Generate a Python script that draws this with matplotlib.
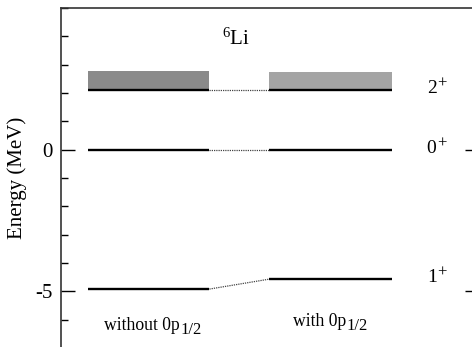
import matplotlib
matplotlib.use("Agg")
import matplotlib.pyplot as plt
from matplotlib.ticker import MultipleLocator

plt.rcParams['font.family'] = ['Liberation Serif', 'DejaVu Serif']
plt.rcParams['mathtext.fontset'] = 'custom'
plt.rcParams['mathtext.rm'] = 'Liberation Serif'
plt.rcParams['mathtext.it'] = 'Liberation Serif:italic'
plt.rcParams['axes.unicode_minus'] = False

# Data
states = ['2', '0', '1']
parity = ['+', '+', '+']
energy_without = [2.12, 0.0, -4.92]
energy_with = [2.12, 0.0, -4.57]
width_without = [0.67, 0.0, 0.0]
width_with = [0.62, 0.0, 0.0]
column_main = ['without 0p', 'with 0p']
column_sub = ['1/2', '1/2']
nucleus = '$^{6}$Li'
yticks_major = [0, -5]

fig = plt.figure(figsize=(4.72, 3.47), dpi=100)
ax = fig.add_axes([61/472, -1/347, 418/472, 340/347])
ax.set_xlim(0, 1)
ax.set_ylim(-7, 5)

x_left = (0.064, 0.355)
x_right = (0.498, 0.793)

for e0, e1, w0, w1 in zip(energy_without, energy_with, width_without, width_with):
    if w0 > 0:
        ax.fill_between(x_left, [e0, e0], [e0 + w0, e0 + w0], color='#8a8a8a', lw=0)
    if w1 > 0:
        ax.fill_between(x_right, [e1, e1], [e1 + w1, e1 + w1], color='#a4a4a4', lw=0)
    ax.plot(x_left, [e0, e0], color='black', lw=1.7, solid_capstyle='butt')
    ax.plot(x_right, [e1, e1], color='black', lw=1.7, solid_capstyle='butt')
    ax.plot([x_left[1], x_right[0]], [e0, e1], color='#444444', lw=0.9, ls=(0, (1, 0.8)))

# state labels with superscript parity
for e, s, p in zip(energy_with, states, parity):
    t = ax.text(0.875, e + 0.05, s, fontsize=14, ha='left', va='center')
    ax.annotate(p, xy=(1, 1), xycoords=t, xytext=(0.2, 3.0), textcoords='offset points',
                fontsize=12, ha='left', va='top')

ax.text(0.42, 3.9, nucleus, fontsize=15, ha='center', va='center')

# column labels with large subscripts
for x0, y0, m, sub in zip([0.103, 0.555], [-6.35, -6.21], column_main, column_sub):
    t = ax.text(x0, y0, m, fontsize=12.7, ha='left', va='baseline')
    ax.annotate(sub, xy=(1, 0), xycoords=t, xytext=(0.3, -3.0), textcoords='offset points',
                fontsize=12, ha='left', va='bottom')

ax.set_ylabel('Energy (MeV)', fontsize=15, labelpad=6)
ax.yaxis.set_minor_locator(MultipleLocator(1))
ax.set_yticks(yticks_major)
ax.set_yticklabels([str(t) for t in yticks_major])
ax.tick_params(axis='y', which='major', direction='in', length=10, width=1, labelsize=15, right=True, pad=6)
ax.tick_params(axis='y', which='minor', direction='in', length=5, width=1, right=True)
ax.set_xticks([])
for sp in ax.spines.values():
    sp.set_linewidth(1.2)
    sp.set_color('#333333')

fig.savefig('out.png', dpi=100)
